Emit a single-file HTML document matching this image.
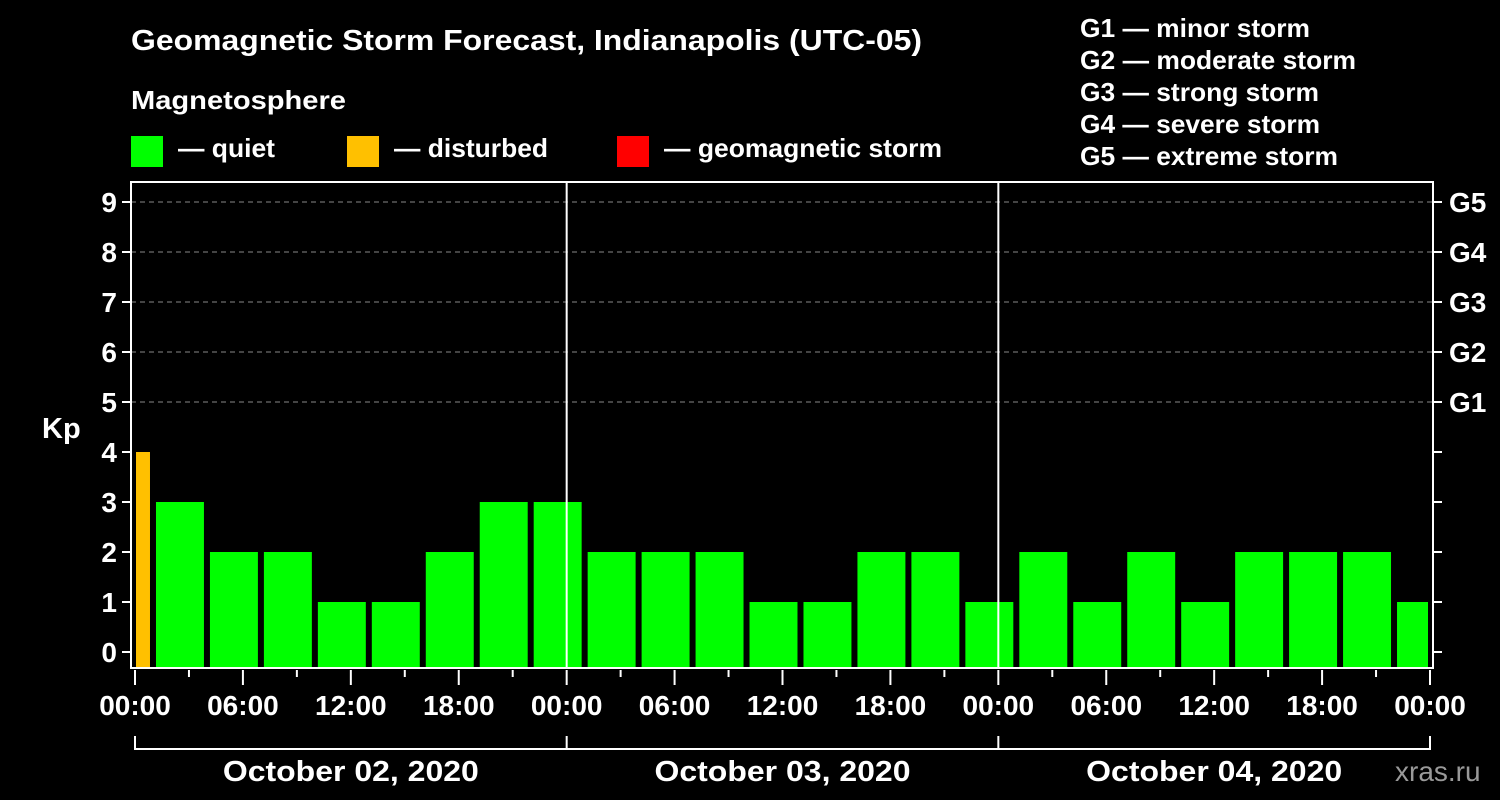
<!DOCTYPE html>
<html><head><meta charset="utf-8"><style>
body{margin:0;background:#000;}
svg{display:block;font-family:"Liberation Sans",Arial,sans-serif;font-weight:bold;}
</style></head><body>
<svg id="c" width="1500" height="800" viewBox="0 0 1500 800">
<rect width="1500" height="800" fill="#000"/>
<text x="131" y="50" fill="#fff" font-size="29" textLength="791" lengthAdjust="spacingAndGlyphs">Geomagnetic Storm Forecast, Indianapolis (UTC-05)</text>
<text x="131" y="109" fill="#fff" font-size="26" textLength="215" lengthAdjust="spacingAndGlyphs">Magnetosphere</text>
<g><rect x="131" y="136" width="32" height="31" fill="#00ff00"/><text x="178" y="157" fill="#fff" font-size="26" textLength="97" lengthAdjust="spacingAndGlyphs">— quiet</text></g>
<g><rect x="347" y="136" width="32" height="31" fill="#ffc000"/><text x="394" y="157" fill="#fff" font-size="26" textLength="154" lengthAdjust="spacingAndGlyphs">— disturbed</text></g>
<g><rect x="617" y="136" width="32" height="31" fill="#ff0000"/><text x="664" y="157" fill="#fff" font-size="26" textLength="278" lengthAdjust="spacingAndGlyphs">— geomagnetic storm</text></g>
<g fill="#fff" font-size="26">
<text x="1080" y="37" textLength="230" lengthAdjust="spacingAndGlyphs">G1 — minor storm</text>
<text x="1080" y="69" textLength="276" lengthAdjust="spacingAndGlyphs">G2 — moderate storm</text>
<text x="1080" y="101" textLength="239" lengthAdjust="spacingAndGlyphs">G3 — strong storm</text>
<text x="1080" y="133" textLength="240" lengthAdjust="spacingAndGlyphs">G4 — severe storm</text>
<text x="1080" y="165" textLength="258" lengthAdjust="spacingAndGlyphs">G5 — extreme storm</text>
</g>
<text x="42" y="438" fill="#fff" font-size="29">Kp</text>
<text x="1395" y="781" fill="#999" font-size="28" font-weight="normal">xras.ru</text>
<g id="grid"></g><g id="bars"></g><g id="axes"></g>
</svg>
<script>
const kpValues=[4,3,2,2,1,1,2,3,3,2,2,2,1,1,2,2,1,2,1,2,1,2,2,2,1];
const startHours=[0,1,4,7,10,13,16,19,22,25,28,31,34,37,40,43,46,49,52,55,58,61,64,67,70];
const endHours=[1,4,7,10,13,16,19,22,25,28,31,34,37,40,43,46,49,52,55,58,61,64,67,70,72];
const yTicks=[0,1,2,3,4,5,6,7,8,9];
const gLabels=["","","","","","G1","G2","G3","G4","G5"];
const xTickLabels=["00:00","06:00","12:00","18:00","00:00","06:00","12:00","18:00","00:00","06:00","12:00","18:00","00:00"];
const dayLabels=["October 02, 2020","October 03, 2020","October 04, 2020"];
const NS="http://www.w3.org/2000/svg";
const X0=135,X1=1430,L=131,R=1433,T=182,B=668;
const x=h=>X0+h*(X1-X0)/72;
const y=v=>652-v*50;
function mk(t,a,p){const e=document.createElementNS(NS,t);for(const k in a)e.setAttribute(k,a[k]);p.appendChild(e);return e;}
const grid=document.getElementById('grid'),bars=document.getElementById('bars'),axes=document.getElementById('axes');
yTicks.forEach(v=>{
 if(v>=5){const g=mk('line',{x1:L,x2:R,y1:y(v),y2:y(v),stroke:'#888','stroke-dasharray':'5,4','stroke-width':1},grid);
 
 }
 mk('line',{x1:L-9,x2:L,y1:y(v),y2:y(v),stroke:'#fff','stroke-width':2},axes);
 mk('line',{x1:R,x2:R+9,y1:y(v),y2:y(v),stroke:'#fff','stroke-width':2},axes);
 const t=mk('text',{x:117,y:y(v)+10,fill:'#fff','font-size':28,'text-anchor':'end'},axes);t.textContent=v;
 
 
 if(gLabels[v]){const g=mk('text',{x:R+16,y:y(v)+10,fill:'#fff','font-size':28},axes);g.textContent=gLabels[v];
 
 }
});
kpValues.forEach((v,i)=>{
 const x1=x(startHours[i])+(i==0?1:3),x2=x(endHours[i])-(i==kpValues.length-1?2:3);
 const c=v>=5?'#ff0000':(v>=4?'#ffc000':'#00ff00');
 const r=mk('rect',{x:x1,y:y(v),width:x2-x1,height:B-y(v),fill:c},bars);
 
 
});
[1,2].forEach(d=>{const l=mk('line',{x1:x(d*24),x2:x(d*24),y1:T,y2:B,stroke:'#fff','stroke-width':2},axes);
 
 });
const fr=mk('rect',{x:L,y:T,width:R-L,height:B-T,fill:'none',stroke:'#fff','stroke-width':2},axes);


for(let h=0;h<=72;h+=3){const maj=h%6==0;mk('line',{x1:x(h),x2:x(h),y1:B+2,y2:B+(maj?17:9),stroke:'#fff','stroke-width':2},axes);}
xTickLabels.forEach((s,i)=>{const t=mk('text',{x:x(i*6),y:715,fill:'#fff','font-size':28,'text-anchor':'middle'},axes);t.textContent=s;
 
 });
mk('line',{x1:X0,x2:X1,y1:749,y2:749,stroke:'#fff','stroke-width':2},axes);
for(let d=0;d<=3;d++)mk('line',{x1:x(d*24),x2:x(d*24),y1:736,y2:750,stroke:'#fff','stroke-width':2},axes);
dayLabels.forEach((s,i)=>{const t=mk('text',{x:x(i*24+12),y:781,fill:'#fff','font-size':29,'text-anchor':'middle',textLength:256,lengthAdjust:'spacingAndGlyphs'},axes);t.textContent=s;
 
 });
</script>
</body></html>
